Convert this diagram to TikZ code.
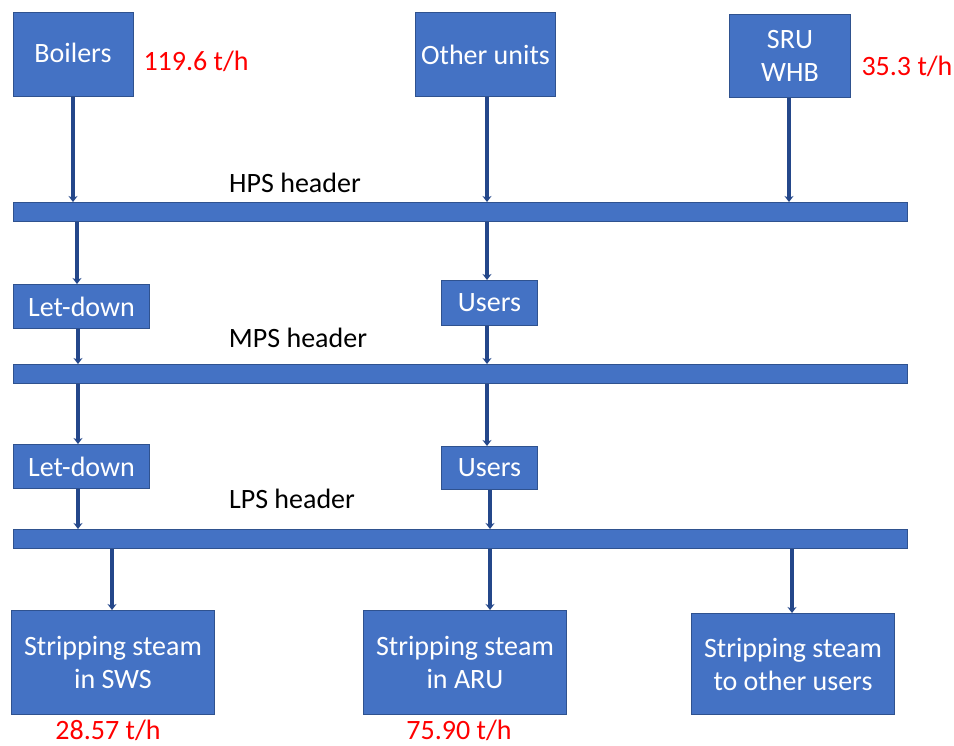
\documentclass[tikz,border=0pt]{standalone}
\usepackage{fontspec}
\setmainfont{Carlito}
\usetikzlibrary{arrows.meta}
\definecolor{boxfill}{HTML}{4472C4}
\definecolor{boxline}{HTML}{2F528F}
\definecolor{conn}{HTML}{24478A}
\definecolor{flowred}{HTML}{FF0000}
\tikzset{
  unit/.style={draw=boxline, line width=1pt, fill=boxfill, text=white, font=\fontsize{28}{33}\selectfont, align=center, inner sep=0pt, anchor=north west},
  header/.style={draw=boxline, line width=1pt, fill=boxfill, inner sep=0pt, anchor=north west},
  lbl/.style={font=\fontsize{28}{33}\selectfont, text=black},
  flow/.style={font=\fontsize{28}{33}\selectfont, text=flowred},
  feed/.style={draw=conn, line width=3.2pt, -{Stealth[length=6pt,width=9pt]}},
}
\begin{document}
\begin{tikzpicture}[x=1pt,y=-1pt]
\useasboundingbox (0,0) rectangle (954,746);
% top sources
\node[unit, minimum width=120pt, minimum height=84pt] (boil) at (13,12) {};
\node[text=white, font=\fontsize{28}{33}\selectfont] (boilt) at (73,53) {Boilers};
\node[unit, minimum width=140pt, minimum height=84pt] (other) at (415,12) {Other units};
\node[unit, minimum width=121pt, minimum height=83pt] (sru) at (729,14) {SRU\\WHB};
\node[flow, anchor=west] (f1) at (140,61) {119.6 t/h};
\node[flow, anchor=west] (f2) at (858,66) {35.3 t/h};
% headers
\node[header, minimum width=894pt, minimum height=19pt] (hps) at (13,202) {};
\node[header, minimum width=894pt, minimum height=19pt] (mps) at (13,364) {};
\node[header, minimum width=894pt, minimum height=19pt] (lps) at (13,529) {};
\node[lbl] (hpsl) at (295,183) {HPS header};
\node[lbl] (mpsl) at (298,338) {MPS header};
\node[lbl] (lpsl) at (292,499) {LPS header};
% middle boxes
\node[unit, minimum width=136pt, minimum height=44pt] (ld1) at (13,284) {Let-down};
\node[unit, minimum width=96pt, minimum height=45pt] (us1) at (441,280) {Users};
\node[unit, minimum width=136pt, minimum height=44pt] (ld2) at (13,444) {Let-down};
\node[unit, minimum width=96pt, minimum height=43pt] (us2) at (441,446) {Users};
% bottom boxes
\node[unit, minimum width=203pt, minimum height=104pt] (sws) at (11,610) {Stripping steam\\in SWS};
\node[unit, minimum width=203pt, minimum height=104pt] (aru) at (363,610) {Stripping steam\\in ARU};
\node[unit, minimum width=203pt, minimum height=101pt] (oth) at (691,613) {Stripping steam\\to other users};
\node[flow] (f3) at (108,730) {28.57 t/h};
\node[flow] (f4) at (459,730) {75.90 t/h};
% connectors
\coordinate (c1) at (73,0);
\coordinate (c2) at (487,0);
\coordinate (c3) at (789,0);
\draw[feed] (c1 |- boil.south) -- (c1 |- hps.north);
\draw[feed] (c2 |- other.south) -- (c2 |- hps.north);
\draw[feed] (c3 |- sru.south) -- (c3 |- hps.north);
\coordinate (c4) at (77,0);
\draw[feed] (c4 |- hps.south) -- (c4 |- ld1.north);
\draw[feed] (c2 |- hps.south) -- (c2 |- us1.north);
\coordinate (c5) at (78,0);
\draw[feed] (c5 |- ld1.south) -- (c5 |- mps.north);
\draw[feed] (c2 |- us1.south) -- (c2 |- mps.north);
\draw[feed] (c5 |- mps.south) -- (c5 |- ld2.north);
\draw[feed] (c2 |- mps.south) -- (c2 |- us2.north);
\coordinate (c6) at (490,0);
\draw[feed] (c5 |- ld2.south) -- (c5 |- lps.north);
\draw[feed] (c6 |- us2.south) -- (c6 |- lps.north);
\coordinate (c7) at (112,0);
\coordinate (c8) at (792,0);
\draw[feed] (c7 |- lps.south) -- (c7 |- sws.north);
\draw[feed] (c6 |- lps.south) -- (c6 |- aru.north);
\draw[feed] (c8 |- lps.south) -- (c8 |- oth.north);
\end{tikzpicture}
\end{document}
